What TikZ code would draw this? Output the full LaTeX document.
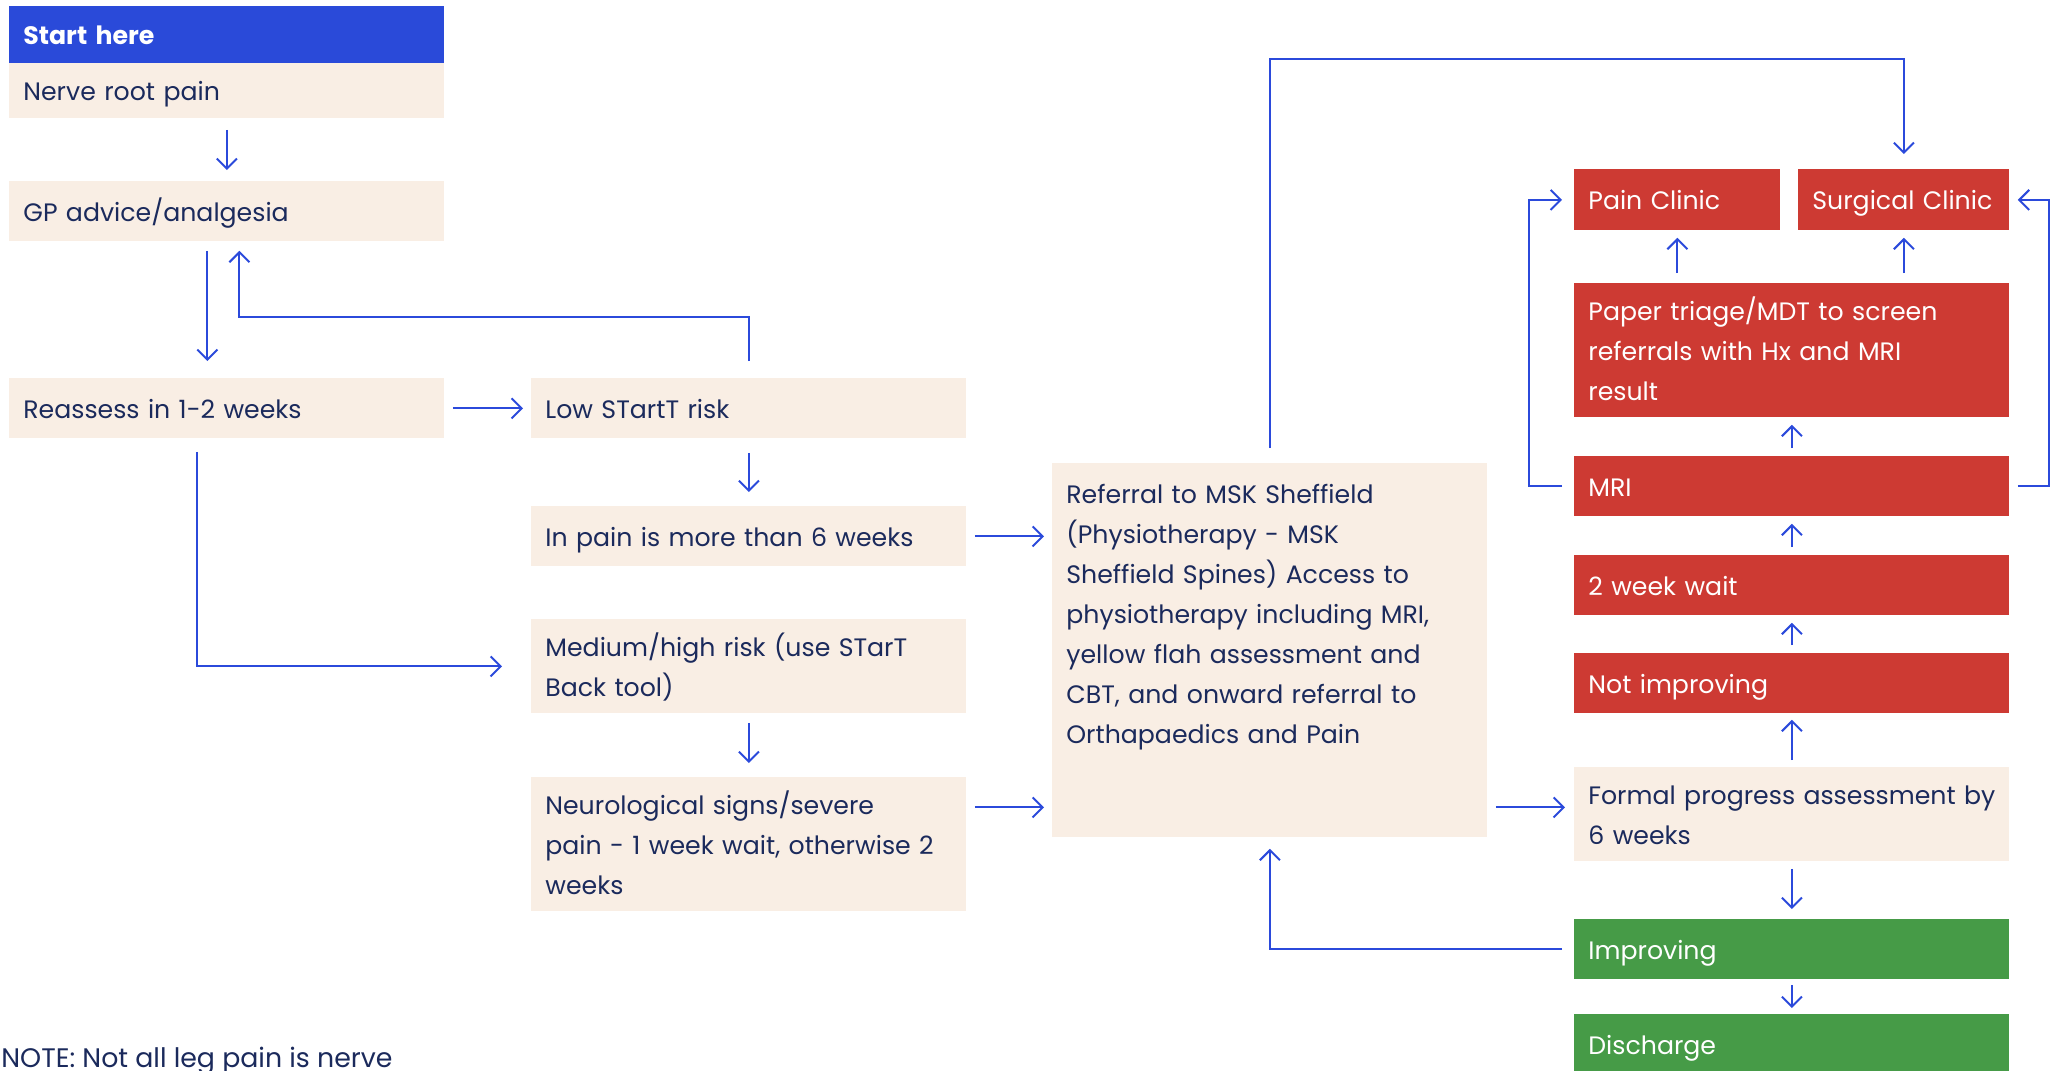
\documentclass[tikz,border=0pt]{standalone}
\usepackage{fontspec}
\setmainfont{Poppins}
\usetikzlibrary{arrows.meta}

\definecolor{navy}{HTML}{1B2A5C}
\definecolor{beige}{HTML}{F9EEE4}
\definecolor{flowblue}{HTML}{2B4ADB}
\definecolor{startblue}{HTML}{2A4AD9}
\definecolor{alertred}{HTML}{CD3A33}
\definecolor{okgreen}{HTML}{469B47}

\newcommand{\boxstrut}{\rule[-5pt]{0pt}{20pt}}

\tikzset{
  box/.style={anchor=north west, fill=beige, text=navy, inner xsep=7pt, inner ysep=0pt,
    text width=203.5pt, align=left, minimum height=30pt, font=\fontsize{12.6}{20}\selectfont,
    execute at begin node=\boxstrut, execute at end node=\boxstrut},
  redbox/.style={box, fill=alertred, text=white},
  greenbox/.style={box, fill=okgreen, text=white},
  conn/.style={draw=flowblue, line width=1pt, -{Straight Barb[length=5pt,width=10pt]},
    shorten <=4pt, shorten >=4pt},
}

\begin{document}
\begin{tikzpicture}[x=0.5pt, y=-0.5pt]
    \useasboundingbox (0,0) rectangle (2062,1071);

    % Left column
    \node[box, fill=startblue, text=white, font=\fontsize{12.6}{20}\selectfont\bfseries, minimum height=28.5pt] (start) at (9,6) {Start here};
    \node[box, minimum height=27.5pt] (nerve) at (9,63) {Nerve root pain};
    \node[box] (gp) at (9,181) {GP advice/analgesia};
    \node[box] (reassess) at (9,378) {Reassess in 1-2 weeks};

    % Middle column
    \node[box] (low) at (531,378) {Low STartT risk};
    \node[box] (inpain) at (531,506) {In pain is more than 6 weeks};
    \node[box, minimum height=47pt] (medium) at (531,619) {\mbox{Medium/high risk (use STarT}\\ Back tool)};
    \node[box, minimum height=67pt] (neuro) at (531,777) {Neurological signs/severe\\ \mbox{pain - 1 week wait, otherwise 2}\\ weeks};

    % Referral
    \node[box, minimum height=187pt] (refer) at (1052,463) {};
    \node[box, fill=none, minimum height=0pt, inner ysep=5pt] (refertext) at (refer.north west)
      {Referral to MSK Sheffield\\ (Physiotherapy - MSK\\ Sheffield Spines) Access to\\ \mbox{physiotherapy including MRI,}\\ yellow flah assessment and\\ CBT, and onward referral to\\ Orthapaedics and Pain};

    % Right column
    \node[redbox, text width=89pt, minimum height=30.5pt] (pain) at (1574,169) {Pain Clinic};
    \node[redbox, text width=91.5pt, minimum height=30.5pt] (surgical) at (1798,169) {\mbox{Surgical Clinic}};
    \node[redbox, minimum height=67pt] (paper) at (1574,283) {Paper triage/MDT to screen\\ referrals with Hx and MRI\\ result};
    \node[redbox] (mri) at (1574,456) {MRI};
    \node[redbox] (twowk) at (1574,555) {2 week wait};
    \node[redbox] (notimp) at (1574,653) {Not improving};
    \node[box, minimum height=47pt] (formal) at (1574,767) {\mbox{Formal progress assessment by}\\ 6 weeks};
    \node[greenbox] (improving) at (1574,919) {Improving};
    \node[greenbox] (discharge) at (1574,1014) {Discharge};

    \node[anchor=base west, inner sep=0pt, text=navy, font=\fontsize{13.4}{20}\selectfont] (note) at (1,1067) {NOTE: Not all leg pain is nerve};

    \coordinate (toprail) at (1500,59);

    % Edges
    \draw[conn, shorten <=5.5pt, shorten >=5.5pt] (nerve) -- (gp);
    \draw[conn, shorten <=4.5pt, shorten >=8.5pt] ([xshift=-9.75pt]gp.south) -- ([xshift=-9.75pt]reassess.north);
    \draw[conn, shorten <=8.5pt, shorten >=4.5pt] (low.north) -- ++(0,-61) -| ([xshift=6.25pt]gp.south);
    \draw[conn] (reassess) -- (low);
    \draw[conn, shorten <=6.5pt, shorten >=14.5pt] ([xshift=-14.75pt]reassess.south) |- (medium.west);

    \draw[conn, shorten <=7pt, shorten >=7pt] (low) -- (inpain);
    \draw[conn, shorten <=4.5pt, shorten >=7pt] (medium) -- (neuro);
    \draw[conn] (inpain.east) -- (inpain.east -| refer.west);
    \draw[conn] ([yshift=18.5pt]neuro.east) -- ([yshift=18.5pt]neuro.east -| refer.west);

    \draw[conn, shorten <=7.5pt, shorten >=7.5pt] (refer.north) |- (toprail) -| (surgical.north);
    \draw[conn, shorten <=4pt, shorten >=4.5pt] ([yshift=3.5pt]formal.west -| refer.east) -- ([yshift=3.5pt]formal.west);
    \draw[conn, shorten <=6pt, shorten >=5.5pt] (improving.west) -| (refer.south);

    % up the right column
    \draw[conn, shorten <=3.5pt, shorten >=3pt] (formal) -- (notimp);
    \foreach \a/\b in {notimp/twowk, twowk/mri, mri/paper}
      \draw[conn, shorten <=4pt, shorten >=3.5pt] (\a) -- (\b);
    \draw[conn, shorten <=5pt, shorten >=3.5pt] (pain.south |- paper.north) -- (pain.south);
    \draw[conn, shorten <=5pt, shorten >=3.5pt] (surgical.south |- paper.north) -- (surgical.south);
    \draw[conn, shorten <=6pt, shorten >=6pt] (mri.west) -- ++(-45,0) |- (pain.west);
    \draw[conn] (mri.east) -- ++(39,0) |- (surgical.east);

    % down to discharge
    \draw[conn, shorten <=3.5pt, shorten >=5pt] (formal) -- (improving);
    \draw[conn, shorten <=2.5pt, shorten >=3pt] (improving) -- (discharge);

\end{tikzpicture}
\end{document}
